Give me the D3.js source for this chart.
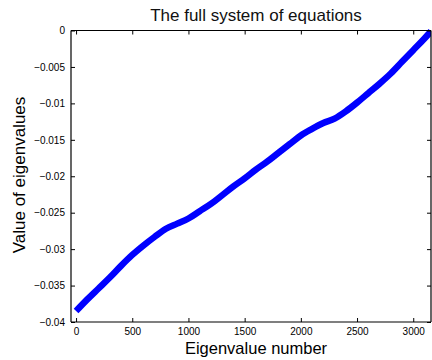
<!DOCTYPE html>
<html>
<head>
<meta charset="utf-8">
<script src="https://cdn.jsdelivr.net/npm/d3@7"></script>
<style>
  html, body { margin: 0; padding: 0; background: #fff; }
  svg { display: block; font-family: "Liberation Sans", Arial, Helvetica, sans-serif; }
</style>
</head>
<body>
<svg id="chart" width="432" height="360"></svg>
<script>
// Eigenvalue index and the sorted eigenvalues of the full system
const eigIndex = [0, 100, 200, 300, 400, 500, 600, 700, 800, 900, 1000, 1100, 1200, 1300, 1400, 1500,
  1600, 1700, 1800, 1900, 2000, 2100, 2200, 2300, 2400, 2500, 2600, 2700, 2800, 2900, 3000, 3100, 3158];
const eigValue = [-0.0385, -0.0369, -0.0354, -0.0339, -0.0323, -0.0308, -0.0295, -0.0283, -0.0272,
  -0.0265, -0.0258, -0.0248, -0.0238, -0.0226, -0.0214, -0.0203, -0.0191, -0.0180, -0.0168, -0.0156,
  -0.0144, -0.0135, -0.0127, -0.0121, -0.0111, -0.0099, -0.0086, -0.0073, -0.0059, -0.0043, -0.0027,
  -0.0011, -0.0001];
const xTicks = [0, 500, 1000, 1500, 2000, 2500, 3000];
const yTicks = [0, -0.005, -0.01, -0.015, -0.02, -0.025, -0.03, -0.035, -0.04];
const yTickLabels = ["0", "\u22120.005", "\u22120.01", "\u22120.015", "\u22120.02", "\u22120.025", "\u22120.03", "\u22120.035", "\u22120.04"];

const svg = d3.select("#chart");
const m = { left: 71, right: 431, top: 30.5, bottom: 322 };

const x = d3.scaleLinear().domain([-45, 3158]).range([m.left, m.right]);
const y = d3.scaleLinear().domain([-0.04, 0]).range([m.bottom, m.top]);

svg.append("defs").append("clipPath").attr("id", "plotArea")
  .append("rect").attr("x", m.left).attr("y", m.top - 3)
  .attr("width", m.right - m.left).attr("height", m.bottom - m.top + 3);

// data line
const pts = eigIndex.map((d, i) => [d, eigValue[i]]);
svg.append("path")
  .datum(pts)
  .attr("clip-path", "url(#plotArea)")
  .attr("fill", "none")
  .attr("stroke", "#0000ff")
  .attr("stroke-width", 6.5)
  .attr("stroke-linejoin", "round")
  .attr("d", d3.line().x(d => x(d[0])).y(d => y(d[1])).curve(d3.curveMonotoneX));

// axes with inward ticks on all four sides
const tickFont = 10;
const gx = svg.append("g").attr("transform", `translate(0,${m.bottom})`)
  .call(d3.axisBottom(x).tickValues(xTicks).tickSize(-4).tickPadding(6).tickFormat(d3.format("d")));
const gy = svg.append("g").attr("transform", `translate(${m.left},0)`)
  .call(d3.axisLeft(y).tickValues(yTicks).tickSize(-4).tickPadding(6).tickFormat((d, i) => yTickLabels[i]));
const gt = svg.append("g").attr("transform", `translate(0,${m.top})`)
  .call(d3.axisTop(x).tickValues(xTicks).tickSize(-4).tickFormat(""));
const gr = svg.append("g").attr("transform", `translate(${m.right},0)`)
  .call(d3.axisRight(y).tickValues(yTicks).tickSize(-4).tickFormat(""));

[gx, gy, gt, gr].forEach(g => {
  g.selectAll(".domain").attr("stroke", "#000").attr("stroke-width", 1.2);
  g.selectAll(".tick line").attr("stroke", "#000");
  g.selectAll("text").attr("font-size", tickFont).attr("fill", "#000")
    .attr("font-family", "Liberation Sans, Arial, sans-serif");
});
gx.selectAll(".domain").attr("d", `M${m.left},0H${m.right}`);
gt.selectAll(".domain").attr("d", `M${m.left},0H${m.right}`);
gy.selectAll(".domain").attr("d", `M0,${m.top}V${m.bottom}`);
gr.selectAll(".domain").attr("d", `M0,${m.top}V${m.bottom}`);

// titles
svg.append("text")
  .attr("x", 256).attr("y", 21)
  .attr("text-anchor", "middle").attr("font-size", 17).attr("fill", "#111")
  .text("The full system of equations");
svg.append("text")
  .attr("x", 256).attr("y", 354)
  .attr("text-anchor", "middle").attr("font-size", 16.5).attr("fill", "#000")
  .text("Eigenvalue number");
svg.append("text")
  .attr("transform", "translate(25,175) rotate(-90)")
  .attr("text-anchor", "middle").attr("font-size", 17).attr("fill", "#000")
  .text("Value of eigenvalues");
</script>
</body>
</html>
